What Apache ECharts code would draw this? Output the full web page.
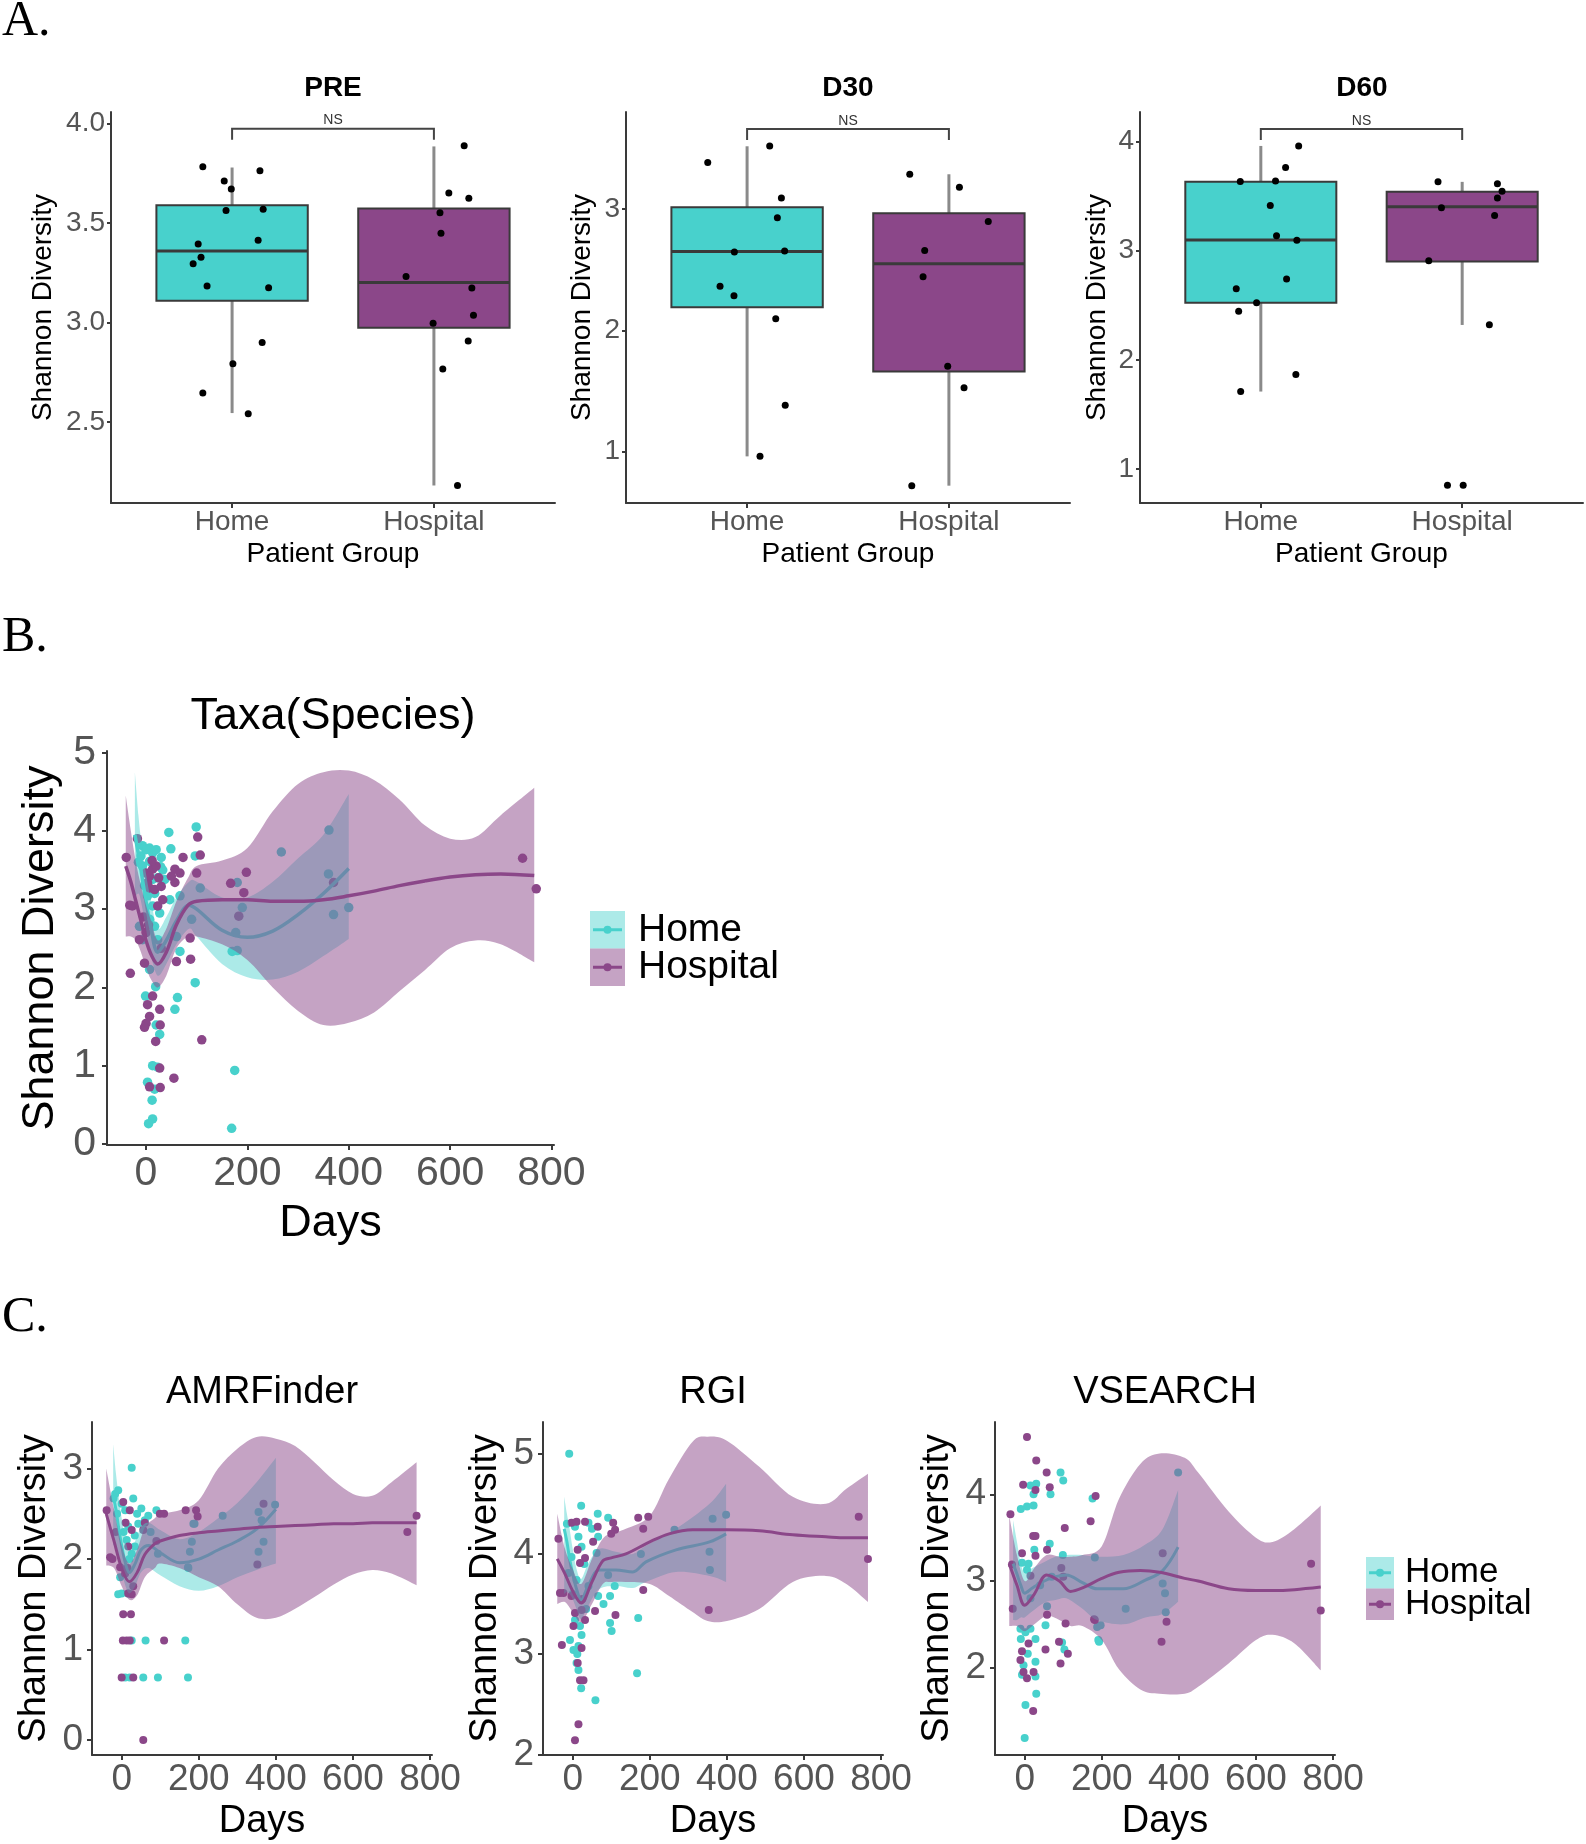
<!DOCTYPE html>
<html>
<head>
<meta charset="utf-8">
<script src="https://cdn.jsdelivr.net/npm/echarts@6/dist/echarts.min.js"></script>
<style>
  html, body { margin: 0; padding: 0; background: #fff; }
  #chart { width: 1586px; height: 1844px; }
</style>
</head>
<body>
<div id="chart"></div>
<script>
// ---------- panel A: diversity per patient group ----------
const groupLabels = ['Home', 'Hospital'];

// box stats: [lower whisker, Q1, median, Q3, upper whisker]
const preHomeBox = [2.546, 3.11, 3.36, 3.59, 3.78];
const preHospBox = [2.182, 2.975, 3.202, 3.574, 3.886];
const preHomeX = [0.855, 1.138, 0.961, 0.996, 0.970, 1.154, 0.832, 1.129, 0.846, 0.807, 0.876, 1.181, 1.149, 1.004, 0.855, 1.080];
const preHomeY = [3.784, 3.764, 3.712, 3.672, 3.564, 3.570, 3.396, 3.415, 3.329, 3.296, 3.184, 3.176, 2.900, 2.794, 2.647, 2.542];
const preHospX = [2.150, 2.074, 2.173, 2.030, 2.035, 1.862, 2.188, 2.196, 1.996, 2.170, 2.044, 2.117];
const preHospY = [3.890, 3.652, 3.625, 3.553, 3.450, 3.232, 3.174, 3.037, 2.997, 2.908, 2.768, 2.182];

const d30HomeBox = [0.959, 2.190, 2.651, 3.016, 3.519];
const d30HospBox = [0.717, 1.659, 2.549, 2.967, 3.288];
const d30HomeX = [0.805, 1.112, 1.170, 1.150, 0.937, 1.186, 0.866, 0.935, 1.142, 1.189, 1.064];
const d30HomeY = [3.385, 3.522, 3.091, 2.929, 2.646, 2.654, 2.363, 2.286, 2.096, 1.382, 0.959];
const d30HospX = [1.806, 2.052, 2.195, 1.880, 1.872, 1.994, 2.075, 1.816];
const d30HospY = [3.288, 3.181, 2.898, 2.659, 2.442, 1.703, 1.525, 0.717];

const d60HomeBox = [1.710, 2.524, 3.098, 3.631, 3.960];
const d60HospBox = [2.320, 2.902, 3.402, 3.540, 3.631];
const d60HomeX = [1.188, 1.123, 0.898, 1.073, 1.047, 1.078, 1.179, 1.128, 0.878, 0.979, 0.890, 1.174, 0.900];
const d60HomeY = [3.960, 3.762, 3.634, 3.640, 3.415, 3.137, 3.095, 2.741, 2.652, 2.524, 2.445, 1.866, 1.710];
const d60HospX = [1.880, 2.175, 2.198, 2.175, 1.897, 2.161, 1.834, 2.135, 1.927, 2.005];
const d60HospY = [3.631, 3.613, 3.546, 3.482, 3.393, 3.323, 2.909, 2.323, 0.851, 0.851];

// ---------- panel B: Taxa(Species) over time ----------
const taxaHomeDays = [45, 99, 49, -7, 7, 13, -10, 0, 20, 30, 7, -7, 29, 23, 13, 37, 3, 13, 27, 7, -13, 17, -7, 23, 7, 19, 60, 67, 47, 67, 90, 97, 107, 97, -1, 62, 57, 27, 20, 13, 23, 3, 17, 12, 13, 5, 175, 169, 180, 190, 177, 170, 180, 267, 361, 360, 370, 400, -3, 17, 33, -15];
const taxaHomeDiv = [3.98, 4.05, 3.77, 3.81, 3.78, 3.72, 3.68, 3.76, 3.76, 3.66, 3.61, 3.55, 3.54, 3.40, 3.38, 3.38, 3.17, 3.04, 2.95, 2.87, 2.78, 2.78, 2.61, 2.61, 2.23, 2.01, 2.65, 2.46, 3.12, 3.17, 2.87, 3.68, 3.27, 2.06, 1.89, 1.87, 1.72, 1.40, 1.52, 1.00, 0.98, 0.79, 0.70, 0.56, 0.32, 0.26, 0.94, 0.20, 3.34, 3.02, 2.70, 2.46, 2.47, 3.73, 4.01, 3.45, 2.93, 3.02, 3.30, 3.20, 3.50, 3.60];
const taxaHospDays = [-39, -17, -32, -27, -31, 3, 7, 17, 30, 33, 23, 13, 0, 7, 20, 57, 57, 73, 102, 107, 100, 67, 50, 0, -13, -3, 60, 88, 87, 198, 167, 193, 183, 13, 3, 7, 27, 0, -3, 28, 19, 110, 27, 55, 7, 28, 370, 743, 770, 30, -5, 5, 12, 25];
const taxaHospDiv = [3.66, 3.90, 3.05, 3.04, 2.18, 3.34, 3.27, 3.25, 3.29, 3.12, 3.04, 3.51, 3.46, 3.42, 3.55, 3.51, 3.34, 3.66, 3.92, 3.69, 3.46, 3.46, 3.42, 2.70, 2.61, 2.31, 2.33, 2.36, 2.63, 3.47, 3.33, 3.21, 2.91, 1.89, 1.78, 1.63, 1.72, 1.54, 1.49, 1.52, 1.31, 1.33, 0.97, 0.84, 0.73, 0.72, 3.34, 3.65, 3.26, 2.50, 2.90, 2.80, 3.62, 3.40];

// smoother fit with confidence band
const taxaHomeX = [-22, -15, -10, 0, 10, 23, 40, 60, 85, 100, 150, 200, 250, 300, 350, 400];
const taxaHomeFit = [3.95, 3.70, 3.50, 3.10, 2.75, 2.45, 2.60, 2.85, 3.05, 3.00, 2.73, 2.64, 2.72, 2.93, 3.20, 3.52];
const taxaHomeHi = [4.75, 4.20, 3.90, 3.45, 3.10, 2.75, 2.90, 3.15, 3.35, 3.35, 3.15, 3.15, 3.35, 3.65, 3.95, 4.47];
const taxaHomeLo = [3.15, 3.20, 3.10, 2.75, 2.40, 2.15, 2.30, 2.55, 2.75, 2.65, 2.30, 2.13, 2.10, 2.20, 2.40, 2.62];
const taxaHospX = [-40, -30, -20, -10, 0, 10, 23, 40, 60, 83, 100, 150, 200, 250, 300, 350, 400, 450, 500, 550, 600, 650, 700, 766];
const taxaHospFit = [3.55, 3.35, 3.10, 2.85, 2.60, 2.42, 2.30, 2.45, 2.80, 3.05, 3.10, 3.12, 3.12, 3.10, 3.10, 3.12, 3.17, 3.23, 3.30, 3.36, 3.41, 3.44, 3.45, 3.43];
const taxaHospHi = [4.45, 4.00, 3.60, 3.30, 3.05, 2.85, 2.60, 2.75, 3.10, 3.40, 3.55, 3.62, 3.78, 4.25, 4.60, 4.75, 4.77, 4.65, 4.40, 4.07, 3.90, 3.92, 4.20, 4.55];
const taxaHospLo = [2.65, 2.65, 2.60, 2.45, 2.25, 2.10, 2.00, 2.15, 2.50, 2.65, 2.65, 2.55, 2.35, 2.00, 1.70, 1.52, 1.55, 1.68, 1.95, 2.22, 2.50, 2.60, 2.55, 2.32];

// ---------- panel C: AMRFinder ----------
const amrHomeDays = [26, -17, -9, -21, 30, 0, 9, 51, 90, 69, 60, 43, 17, 34, 13, 34, 26, 94, 172, -4, 0, -9, 17, 26, 62, 165, 9, 21, 56, 94, 172, 262, 189, 355, 363, 368, 355, 398, 182, 177, 186, 173, -12, 5, 20, 40, 75];
const amrHomeDiv = [3.01, 2.72, 2.76, 2.67, 2.67, 2.61, 2.54, 2.56, 2.54, 2.48, 2.43, 2.39, 2.36, 2.26, 2.21, 2.14, 2.06, 2.06, 1.91, 1.80, 1.62, 1.61, 1.62, 1.10, 1.10, 1.10, 0.69, 0.69, 0.69, 0.69, 0.69, 2.48, 2.39, 2.52, 2.43, 2.19, 2.08, 2.60, 2.19, 2.08, 2.39, 1.90, 2.50, 2.30, 2.00, 2.50, 2.30];
const amrHospDays = [-39, -30, -24, 4, 21, 26, 56, 99, 110, 17, -4, 9, 17, 26, 4, 24, 3, 13, 21, 110, 0, 30, 56, 166, 193, 197, 741, 765, 352, 368, 10, -15, 15, 60, 90, 30];
const amrHospDiv = [2.54, 2.02, 2.00, 2.63, 2.54, 2.32, 2.32, 2.50, 2.50, 2.14, 1.91, 1.84, 1.62, 1.61, 1.39, 1.39, 1.10, 1.10, 1.10, 1.10, 0.69, 0.69, 0.00, 2.54, 2.54, 2.47, 2.30, 2.48, 1.94, 2.61, 2.40, 2.30, 1.90, 2.40, 2.20, 1.70];
const amrHomeX = [-22, -15, -8, 0, 10, 20, 35, 50, 70, 100, 150, 200, 250, 300, 350, 400];
const amrHomeFit = [2.70, 2.55, 2.35, 2.15, 1.95, 1.85, 1.95, 2.10, 2.15, 2.07, 1.96, 2.00, 2.10, 2.20, 2.33, 2.55];
const amrHomeHi = [3.27, 2.95, 2.70, 2.45, 2.20, 2.08, 2.20, 2.35, 2.40, 2.32, 2.22, 2.30, 2.45, 2.62, 2.85, 3.12];
const amrHomeLo = [2.15, 2.15, 2.00, 1.85, 1.70, 1.62, 1.70, 1.85, 1.90, 1.82, 1.70, 1.65, 1.70, 1.80, 1.88, 1.95];
const amrHospX = [-40, -20, 0, 20, 40, 60, 86, 100, 150, 200, 250, 300, 350, 400, 450, 500, 550, 600, 650, 700, 765];
const amrHospFit = [2.50, 2.20, 1.90, 1.75, 1.85, 2.05, 2.17, 2.20, 2.26, 2.29, 2.31, 2.33, 2.35, 2.36, 2.37, 2.38, 2.39, 2.39, 2.40, 2.40, 2.40];
const amrHospHi = [3.00, 2.55, 2.15, 1.95, 2.10, 2.35, 2.45, 2.50, 2.54, 2.65, 3.00, 3.22, 3.35, 3.33, 3.25, 3.07, 2.87, 2.72, 2.70, 2.85, 3.07];
const amrHospLo = [1.93, 1.90, 1.70, 1.55, 1.60, 1.80, 1.90, 1.95, 1.90, 1.80, 1.70, 1.50, 1.35, 1.35, 1.45, 1.58, 1.72, 1.83, 1.88, 1.84, 1.71];

// ---------- panel C: RGI ----------
const rgiHomeDays = [-9, 22, 65, 92, 6, 41, 15, 66, -3, 23, 62, -11, 10, 41, 66, 97, 109, 92, 170, -7, 2, 15, 6, 19, 23, 97, 101, 10, 15, 22, 59, 167, 264, 355, 356, 398, 363, 177, -15, 30, 50, 0, 35, 80, 12];
const rgiHomeDiv = [5.00, 4.48, 4.40, 4.36, 4.27, 4.31, 4.17, 4.17, 3.97, 4.07, 4.01, 3.81, 3.74, 3.68, 3.58, 3.58, 3.68, 3.79, 3.36, 3.14, 3.04, 3.08, 3.34, 3.28, 3.19, 3.31, 3.23, 2.91, 2.84, 2.66, 2.54, 2.81, 4.24, 4.02, 3.84, 4.39, 4.35, 4.00, 4.30, 3.90, 4.25, 3.60, 3.45, 3.50, 3.00];
const rgiHospDays = [-37, -33, -24, -3, 32, 10, 65, 105, 110, 170, 196, 183, 53, 13, 19, 32, -3, 23, 58, 111, 6, 32, 2, -28, 23, 13, 19, 28, 15, 6, 183, 742, 766, 353, 100, 25];
const rgiHospDiv = [4.15, 3.61, 3.61, 4.31, 4.32, 4.32, 4.27, 4.31, 4.24, 4.36, 4.37, 4.25, 4.12, 4.04, 3.91, 3.96, 3.58, 3.44, 3.43, 3.39, 3.41, 3.34, 3.28, 3.09, 3.06, 2.91, 2.74, 2.74, 2.30, 2.14, 3.64, 4.37, 3.95, 3.44, 4.20, 3.55];
const rgiHomeX = [-22, -15, -8, 0, 10, 22, 40, 69, 112, 156, 190, 268, 355, 398];
const rgiHomeFit = [4.25, 4.12, 3.95, 3.80, 3.65, 3.54, 3.68, 3.84, 3.84, 3.82, 3.92, 4.04, 4.12, 4.20];
const rgiHomeHi = [4.57, 4.40, 4.25, 4.05, 3.85, 3.75, 3.90, 4.05, 4.02, 4.00, 4.08, 4.25, 4.50, 4.70];
const rgiHomeLo = [3.60, 3.62, 3.60, 3.55, 3.45, 3.35, 3.48, 3.65, 3.68, 3.66, 3.72, 3.82, 3.78, 3.72];
const rgiHospX = [-40, -20, 0, 22, 50, 78, 100, 138, 200, 250, 311, 350, 400, 484, 571, 657, 710, 766];
const rgiHospFit = [3.95, 3.80, 3.63, 3.51, 3.72, 3.93, 3.96, 4.00, 4.12, 4.20, 4.24, 4.24, 4.24, 4.23, 4.19, 4.17, 4.16, 4.16];
const rgiHospHi = [4.40, 4.05, 3.85, 3.70, 3.95, 4.15, 4.20, 4.25, 4.38, 4.75, 5.12, 5.17, 5.13, 4.87, 4.57, 4.50, 4.65, 4.80];
const rgiHospLo = [3.50, 3.52, 3.42, 3.32, 3.50, 3.70, 3.72, 3.72, 3.70, 3.58, 3.42, 3.33, 3.33, 3.45, 3.72, 3.78, 3.70, 3.52];

// ---------- panel C: VSEARCH ----------
const vsHomeDays = [93, 100, 15, 30, 23, 67, -10, 6, 23, 176, 65, 25, -7, 6, 99, 182, 58, 54, -11, 2, 15, 28, -10, 97, 103, 191, 8, 28, -3, 28, -7, 30, 2, 0, 197, 398, 366, 188, 193, 262, 358, 364, 15, 40, 70, 10];
const vsHomeDiv = [4.25, 4.16, 4.10, 4.12, 4.00, 4.00, 3.83, 3.86, 3.87, 3.95, 3.43, 3.36, 3.21, 3.13, 3.30, 3.27, 2.71, 2.49, 2.45, 2.41, 2.45, 2.33, 2.33, 2.29, 2.21, 2.32, 2.16, 2.07, 2.03, 1.90, 1.92, 1.70, 1.57, 1.19, 2.49, 4.25, 2.64, 2.47, 2.30, 2.68, 2.97, 2.86, 2.80, 2.95, 3.05, 3.20];
const vsHospDays = [6, 30, 57, -4, 28, 65, 184, -37, 104, 171, 22, 28, -7, 28, 15, -33, 58, -31, 58, 106, 180, 10, 54, -7, -11, 89, 112, 93, -3, 23, 6, 22, 743, 768, 355, 368, 358, 182, 95, 100];
const vsHospDiv = [4.66, 4.39, 4.25, 4.11, 4.05, 4.08, 3.98, 3.77, 3.61, 3.69, 3.52, 3.52, 3.32, 3.29, 3.06, 3.19, 3.36, 2.68, 2.61, 2.51, 2.56, 2.28, 2.21, 2.19, 2.09, 2.30, 2.16, 2.05, 1.95, 1.95, 1.88, 1.50, 3.20, 2.66, 2.30, 2.53, 3.32, 2.55, 3.15, 3.05];
const vsHomeX = [-30, -20, -10, 0, 20, 51, 80, 108, 150, 188, 256, 313, 358, 398];
const vsHomeFit = [3.20, 3.08, 2.95, 2.86, 2.92, 3.00, 3.05, 3.07, 2.98, 2.91, 2.91, 3.01, 3.12, 3.39];
const vsHomeHi = [3.70, 3.45, 3.20, 3.10, 3.15, 3.22, 3.28, 3.30, 3.30, 3.28, 3.30, 3.42, 3.60, 4.05];
const vsHomeLo = [2.55, 2.55, 2.58, 2.58, 2.65, 2.75, 2.78, 2.80, 2.68, 2.55, 2.50, 2.58, 2.62, 2.76];
const vsHospX = [-40, -20, 0, 25, 57, 90, 119, 150, 200, 245, 300, 350, 415, 450, 529, 600, 643, 700, 768];
const vsHospFit = [3.20, 2.95, 2.72, 2.85, 3.07, 3.00, 2.88, 2.92, 3.03, 3.10, 3.12, 3.10, 3.03, 3.00, 2.91, 2.89, 2.89, 2.90, 2.93];
const vsHospHi = [3.75, 3.30, 3.00, 3.15, 3.30, 3.28, 3.28, 3.30, 3.40, 3.95, 4.35, 4.47, 4.42, 4.25, 3.80, 3.50, 3.45, 3.60, 3.87];
const vsHospLo = [2.48, 2.48, 2.42, 2.50, 2.60, 2.55, 2.48, 2.48, 2.32, 1.98, 1.75, 1.70, 1.70, 1.78, 2.05, 2.32, 2.38, 2.28, 1.97];

const dayTicks = [0, 200, 400, 600, 800];

// ---------- styling ----------
const FONT = '"Liberation Sans", Arial, sans-serif';
const SERIF = '"Liberation Serif", "Times New Roman", serif';
const CYAN = '#48D1CC';
const PURPLE = '#8B4789';
const CYAN_BAND = 'rgba(72,209,204,0.45)';
const PURPLE_BAND = 'rgba(139,71,137,0.5)';
const AXIS = '#3a3a3a';
const TICKTXT = '#555555';

const zip = (xs, ys) => xs.map((x, i) => [x, ys[i]]);

// catmull-rom through pixel points, as svg path segments
function curve(pts) {
  let d = '';
  for (let i = 0; i < pts.length - 1; i++) {
    const p0 = pts[Math.max(i - 1, 0)], p1 = pts[i], p2 = pts[i + 1], p3 = pts[Math.min(i + 2, pts.length - 1)];
    const c1 = [p1[0] + (p2[0] - p0[0]) / 6, p1[1] + (p2[1] - p0[1]) / 6];
    const c2 = [p2[0] - (p3[0] - p1[0]) / 6, p2[1] - (p3[1] - p1[1]) / 6];
    d += ' C' + c1.join(',') + ' ' + c2.join(',') + ' ' + p2.join(',');
  }
  return d;
}

function axis(o) {
  return {
    type: 'value', gridIndex: o.grid, min: o.min, max: o.max,
    name: o.name, nameLocation: 'middle', nameGap: o.nameGap,
    nameTextStyle: { fontSize: o.nameSize, color: '#000', fontFamily: FONT },
    axisLine: { show: true, onZero: false, lineStyle: { color: AXIS, width: 2 } },
    axisTick: { show: true, customValues: o.ticks, length: o.tickLen || 5, lineStyle: { color: AXIS, width: 2 } },
    axisLabel: { customValues: o.ticks, formatter: o.fmt, fontSize: o.labelSize, color: TICKTXT, margin: o.margin, fontFamily: FONT },
    splitLine: { show: false }
  };
}

function points(grid, xs, ys, color, size) {
  return {
    type: 'scatter', xAxisIndex: grid, yAxisIndex: grid, data: zip(xs, ys),
    symbolSize: size, itemStyle: { color: color, opacity: 1 }, z: 2, silent: true
  };
}

function boxes(grid, homeBox, hospBox) {
  const fills = [CYAN, PURPLE];
  return {
    type: 'custom', xAxisIndex: grid, yAxisIndex: grid, z: 1, silent: true,
    data: [[1, ...homeBox, 0], [2, ...hospBox, 1]],
    renderItem: (params, api) => {
      const x = api.value(0);
      const half = api.size([0.75, 0])[0] / 2;
      const lo = api.coord([x, api.value(1)]), q1 = api.coord([x, api.value(2)]);
      const md = api.coord([x, api.value(3)]), q3 = api.coord([x, api.value(4)]);
      const hi = api.coord([x, api.value(5)]);
      const fill = fills[api.value(6)];
      return {
        type: 'group', children: [
          { type: 'line', shape: { x1: lo[0], y1: lo[1], x2: q1[0], y2: q1[1] }, style: { stroke: '#8a8a8a', lineWidth: 3 } },
          { type: 'line', shape: { x1: q3[0], y1: q3[1], x2: hi[0], y2: hi[1] }, style: { stroke: '#8a8a8a', lineWidth: 3 } },
          { type: 'rect', shape: { x: q3[0] - half, y: q3[1], width: half * 2, height: q1[1] - q3[1] }, style: { fill: fill, stroke: '#3a3a3a', lineWidth: 2 } },
          { type: 'line', shape: { x1: md[0] - half, y1: md[1], x2: md[0] + half, y2: md[1] }, style: { stroke: '#3a3a3a', lineWidth: 3 } }
        ]
      };
    }
  };
}

function bracket(grid, top) {
  return {
    type: 'custom', xAxisIndex: grid, yAxisIndex: grid, z: 3, silent: true,
    data: [[1.5, top]],
    renderItem: (params, api) => {
      const a = api.coord([1, api.value(1)]);
      const b = api.coord([2, api.value(1)]);
      const y = a[1] - 17;
      return {
        type: 'group', children: [
          { type: 'polyline', shape: { points: [[a[0], y + 11], [a[0], y], [b[0], y], [b[0], y + 11]] }, style: { stroke: '#444', lineWidth: 2, fill: null } },
          { type: 'text', x: (a[0] + b[0]) / 2, y: y - 8, style: { text: 'NS', fontSize: 14, fontFamily: FONT, fill: '#333', align: 'center', verticalAlign: 'middle', textAlign: 'center', textVerticalAlign: 'middle' } }
        ]
      };
    }
  };
}

function band(grid, xs, lo, hi, fill, z) {
  return {
    type: 'custom', xAxisIndex: grid, yAxisIndex: grid, z: z, silent: true,
    data: [[xs[0], lo[0]]],
    renderItem: (params, api) => {
      const up = xs.map((x, i) => api.coord([x, hi[i]]));
      const dn = xs.map((x, i) => api.coord([x, lo[i]])).reverse();
      const d = 'M' + up[0].join(',') + curve(up) + ' L' + dn[0].join(',') + curve(dn) + ' Z';
      return { type: 'path', shape: { pathData: d }, style: { fill: fill, stroke: null } };
    }
  };
}

function fit(grid, xs, ys, color, width, z) {
  return {
    type: 'line', xAxisIndex: grid, yAxisIndex: grid, data: zip(xs, ys), z: z,
    smooth: 0.35, showSymbol: false, silent: true,
    lineStyle: { color: color, width: width }
  };
}

function trend(grid, d, size, lw) {
  return [
    points(grid, d.homeDays, d.homeDiv, CYAN, size),
    points(grid, d.hospDays, d.hospDiv, PURPLE, size),
    band(grid, d.homeX, d.homeLo, d.homeHi, CYAN_BAND, 3),
    fit(grid, d.homeX, d.homeFit, CYAN, lw, 4),
    band(grid, d.hospX, d.hospLo, d.hospHi, PURPLE_BAND, 5),
    fit(grid, d.hospX, d.hospFit, PURPLE, lw, 6)
  ];
}

const maxOf = (...arrs) => Math.max(...arrs.flat());

const grids = [
  { left: 111, top: 112, width: 444, height: 391 },
  { left: 626, top: 112, width: 444, height: 391 },
  { left: 1140, top: 112, width: 443, height: 391 },
  { left: 107, top: 751, width: 447, height: 394 },
  { left: 92, top: 1422, width: 340, height: 333 },
  { left: 543, top: 1422, width: 340, height: 333 },
  { left: 995, top: 1422, width: 340, height: 333 }
];

const groupFmt = v => groupLabels[Math.round(v) - 1];
const aX = g => axis({ grid: g, min: 0.4, max: 2.6, ticks: [1, 2], fmt: groupFmt, labelSize: 28, margin: 5, name: 'Patient Group', nameGap: 37, nameSize: 28, tickLen: 5 });
const dX = (g, size, margin, nameGap, nameSize) => axis({ grid: g, min: -77, max: 805, ticks: dayTicks, fmt: v => String(v), labelSize: size, margin: margin, name: 'Days', nameGap: nameGap, nameSize: nameSize });

const xAxes = [
  aX(0), aX(1), aX(2),
  dX(3, 41, 8, 56, 45),
  dX(4, 37, 6, 48, 38), dX(5, 37, 6, 48, 38), dX(6, 37, 6, 48, 38)
];
const yAxes = [
  axis({ grid: 0, min: 2.094, max: 4.059, ticks: [2.5, 3, 3.5, 4], fmt: v => v.toFixed(1), labelSize: 28, margin: 6, name: 'Shannon Diversity', nameGap: 54, nameSize: 28, tickLen: 4 }),
  axis({ grid: 1, min: 0.574, max: 3.802, ticks: [1, 2, 3], fmt: v => String(v), labelSize: 28, margin: 6, name: 'Shannon Diversity', nameGap: 30, nameSize: 28, tickLen: 4 }),
  axis({ grid: 2, min: 0.689, max: 4.271, ticks: [1, 2, 3, 4], fmt: v => String(v), labelSize: 28, margin: 6, name: 'Shannon Diversity', nameGap: 29, nameSize: 28, tickLen: 4 }),
  axis({ grid: 3, min: -0.013, max: 5.02, ticks: [0, 1, 2, 3, 4, 5], fmt: v => String(v), labelSize: 41, margin: 11, name: 'Shannon Diversity', nameGap: 44, nameSize: 45 }),
  axis({ grid: 4, min: -0.166, max: 3.515, ticks: [0, 1, 2, 3], fmt: v => String(v), labelSize: 37, margin: 9, name: 'Shannon Diversity', nameGap: 38, nameSize: 38 }),
  axis({ grid: 5, min: 1.993, max: 5.316, ticks: [2, 3, 4, 5], fmt: v => String(v), labelSize: 37, margin: 9, name: 'Shannon Diversity', nameGap: 38, nameSize: 38 }),
  axis({ grid: 6, min: 0.994, max: 4.833, ticks: [2, 3, 4], fmt: v => String(v), labelSize: 37, margin: 9, name: 'Shannon Diversity', nameGap: 38, nameSize: 38 })
];

const series = [
  boxes(0, preHomeBox, preHospBox),
  points(0, preHomeX, preHomeY, '#000', 7),
  points(0, preHospX, preHospY, '#000', 7),
  bracket(0, maxOf(preHomeY, preHospY, preHomeBox, preHospBox)),
  boxes(1, d30HomeBox, d30HospBox),
  points(1, d30HomeX, d30HomeY, '#000', 7),
  points(1, d30HospX, d30HospY, '#000', 7),
  bracket(1, maxOf(d30HomeY, d30HospY, d30HomeBox, d30HospBox)),
  boxes(2, d60HomeBox, d60HospBox),
  points(2, d60HomeX, d60HomeY, '#000', 7),
  points(2, d60HospX, d60HospY, '#000', 7),
  bracket(2, maxOf(d60HomeY, d60HospY, d60HomeBox, d60HospBox)),
  ...trend(3, { homeDays: taxaHomeDays, homeDiv: taxaHomeDiv, hospDays: taxaHospDays, hospDiv: taxaHospDiv,
    homeX: taxaHomeX, homeFit: taxaHomeFit, homeHi: taxaHomeHi, homeLo: taxaHomeLo,
    hospX: taxaHospX, hospFit: taxaHospFit, hospHi: taxaHospHi, hospLo: taxaHospLo }, 9.5, 3.5),
  ...trend(4, { homeDays: amrHomeDays, homeDiv: amrHomeDiv, hospDays: amrHospDays, hospDiv: amrHospDiv,
    homeX: amrHomeX, homeFit: amrHomeFit, homeHi: amrHomeHi, homeLo: amrHomeLo,
    hospX: amrHospX, hospFit: amrHospFit, hospHi: amrHospHi, hospLo: amrHospLo }, 8, 3),
  ...trend(5, { homeDays: rgiHomeDays, homeDiv: rgiHomeDiv, hospDays: rgiHospDays, hospDiv: rgiHospDiv,
    homeX: rgiHomeX, homeFit: rgiHomeFit, homeHi: rgiHomeHi, homeLo: rgiHomeLo,
    hospX: rgiHospX, hospFit: rgiHospFit, hospHi: rgiHospHi, hospLo: rgiHospLo }, 8, 3),
  ...trend(6, { homeDays: vsHomeDays, homeDiv: vsHomeDiv, hospDays: vsHospDays, hospDiv: vsHospDiv,
    homeX: vsHomeX, homeFit: vsHomeFit, homeHi: vsHomeHi, homeLo: vsHomeLo,
    hospX: vsHospX, hospFit: vsHospFit, hospHi: vsHospHi, hospLo: vsHospLo }, 8, 3)
];

// titles, panel letters and legends as plain graphics
function label(text, x, y, size, opts) {
  opts = opts || {};
  return {
    type: 'text', x: x, y: y, silent: true,
    style: {
      text: text, fontSize: size, fontFamily: opts.family || FONT, fontWeight: opts.weight || 'normal',
      fill: opts.color || '#000', align: opts.align || 'center', verticalAlign: 'middle',
      textAlign: opts.align || 'center', textVerticalAlign: 'middle'
    }
  };
}

function legend(x, y, w, h, fontSize, textX) {
  const items = [['Home', CYAN, CYAN_BAND], ['Hospital', PURPLE, PURPLE_BAND]];
  const out = [];
  items.forEach((it, i) => {
    const top = y + i * h;
    const cy = top + h / 2;
    out.push({ type: 'rect', shape: { x: x, y: top, width: w, height: h }, style: { fill: it[2] } });
    out.push({ type: 'line', shape: { x1: x + 3, y1: cy, x2: x + w - 3, y2: cy }, style: { stroke: it[1], lineWidth: 3 } });
    out.push({ type: 'circle', shape: { cx: x + w / 2, cy: cy, r: 4 }, style: { fill: it[1] } });
    out.push(label(it[0], textX, cy, fontSize, { align: 'left' }));
  });
  return out;
}

const graphics = [
  label('A.', 2, 22, 50, { family: SERIF, align: 'left' }),
  label('B.', 2, 638, 50, { family: SERIF, align: 'left' }),
  label('C.', 2, 1318, 50, { family: SERIF, align: 'left' }),
  label('PRE', 333, 88, 28, { weight: 'bold' }),
  label('D30', 848, 88, 28, { weight: 'bold' }),
  label('D60', 1362, 88, 28, { weight: 'bold' }),
  label('Taxa(Species)', 333, 717, 45),
  label('AMRFinder', 262, 1393, 38),
  label('RGI', 713, 1393, 38),
  label('VSEARCH', 1165, 1393, 38),
  ...legend(590, 911, 35, 37.5, 39, 638),
  ...legend(1366, 1557, 28, 31.5, 35, 1405)
];

const chart = echarts.init(document.getElementById('chart'));
chart.setOption({
  animation: false,
  backgroundColor: '#fff',
  grid: grids,
  xAxis: xAxes,
  yAxis: yAxes,
  series: series,
  graphic: { elements: graphics }
});
</script>
</body>
</html>
